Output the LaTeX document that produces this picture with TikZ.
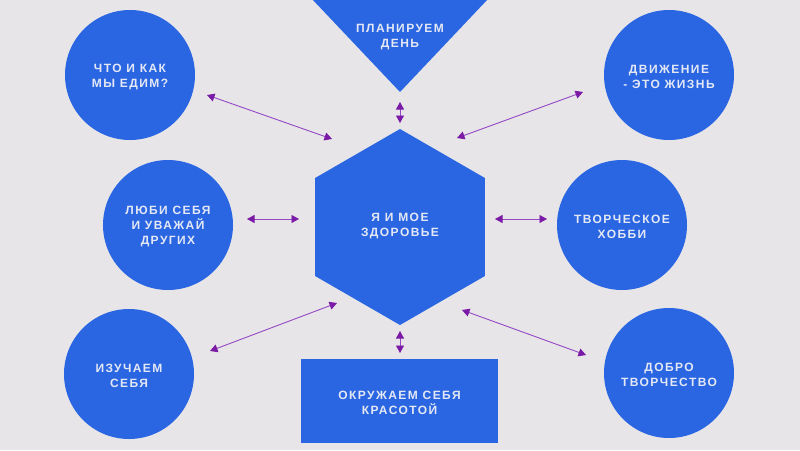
\documentclass[tikz,border=0pt]{standalone}
\usepackage{fontspec}
\newfontfamily\lbl[LetterSpace=12]{Liberation Sans}
\usetikzlibrary{arrows.meta}
\definecolor{bg}{HTML}{E7E5E8}
\definecolor{shp}{HTML}{2A66E2}
\definecolor{txt}{HTML}{E4E8F4}
\definecolor{arr}{HTML}{9548C4}
\definecolor{tipc}{HTML}{7A1AA6}
\begin{document}
\begin{tikzpicture}[x=1pt,y=-1pt,
 lab/.style={text=txt, font=\lbl\bfseries\fontsize{12}{15}\selectfont, align=center, inner sep=0pt},
 bubble/.style={circle, fill=shp, minimum size=130pt, inner sep=0pt},
 link/.style={draw=arr, line width=0.9pt, {Triangle[length=7.5pt,width=8pt,color=tipc]}-{Triangle[length=7.5pt,width=8pt,color=tipc]}}]
\fill[bg] (0,0) rectangle (800,450);
\useasboundingbox (0,0) rectangle (800,450);
\begin{scope}
\clip (0,0) rectangle (800,450);
\fill[shp] (294,-20) -- (506,-20) -- (400,92) -- cycle;
\end{scope}
\fill[shp] (400,129) -- (484.9,178) -- (484.9,276) -- (400,325) -- (315.1,276) -- (315.1,178) -- cycle;
\node[lab] (tri) at (400,37) {ПЛАНИРУЕМ\\ДЕНЬ};
\node[lab] (hex) at (400,226) {Я И МОЕ\\ЗДОРОВЬЕ};
\node[fill=shp, minimum width=197pt, minimum height=84pt, label={[lab,yshift=-2pt]center:ОКРУЖАЕМ СЕБЯ\\КРАСОТОЙ}] (rect) at (399.5,401) {};
\node[bubble, label={[lab,yshift=-2pt]center:ЧТО И КАК\\МЫ ЕДИМ?}] (c1) at (130,75) {};
\node[bubble, label={[lab,yshift=-2pt]center:ДВИЖЕНИЕ\\- ЭТО ЖИЗНЬ}] (c2) at (669,75) {};
\node[bubble, label={[lab,yshift=-2pt]center:ЛЮБИ СЕБЯ\\И УВАЖАЙ\\ДРУГИХ}] (c3) at (168,225) {};
\node[bubble, label={[lab,yshift=-2pt]center:ТВОРЧЕСКОЕ\\ХОББИ}] (c4) at (622,225) {};
\node[bubble, label={[lab,yshift=-2pt]center:ИЗУЧАЕМ\\СЕБЯ}] (c5) at (129,374) {};
\node[bubble, label={[lab,yshift=-2pt]center:ДОБРО\\ТВОРЧЕСТВО}] (c6) at (669,373) {};
\coordinate (a1s) at (207,95);  \coordinate (a1e) at (332,139);
\coordinate (a2s) at (457,138); \coordinate (a2e) at (583,92);
\coordinate (a3s) at (400,102); \coordinate (a3e) at (400,123);
\coordinate (a4s) at (400,331); \coordinate (a4e) at (400,353);
\coordinate (a5s) at (247,219); \coordinate (a5e) at (299,219);
\coordinate (a6s) at (495,219); \coordinate (a6e) at (547,219);
\coordinate (a7s) at (210,351); \coordinate (a7e) at (337,303);
\coordinate (a8s) at (462,310); \coordinate (a8e) at (586,355);
\foreach \i in {1,...,8} {\draw[link] (a\i s) -- (a\i e);}
\end{tikzpicture}
\end{document}
